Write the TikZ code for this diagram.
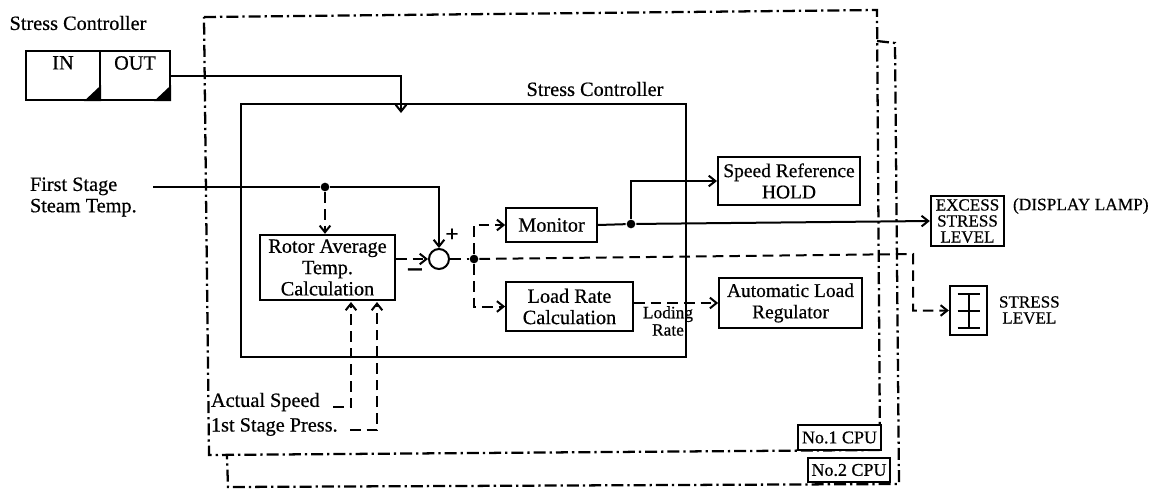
\documentclass[tikz,border=0pt]{standalone}
\usepackage{fontspec}
\setmainfont{Liberation Serif}[FakeBold=0.5]
\usetikzlibrary{arrows.meta,calc,positioning}

\begin{document}
\begin{tikzpicture}[
  x=0.75pt,y=-0.75pt,
  font=\fontsize{15.2}{16}\selectfont,
  >={Straight Barb[length=5pt,width=8pt]},
  line width=1.5pt,
  block/.style={draw,rectangle,align=center,fill=white,inner sep=0pt},
  sum/.style  ={draw,circle,minimum size=15pt,inner sep=0pt},
  junction/.style={fill,circle,minimum size=6.5pt,inner sep=0pt},
  tag/.style={inner sep=0pt,align=left},
  small/.style={font=\fontsize{12.8}{12}\selectfont,inner sep=0pt,align=center},
  sigdash/.style={dash pattern=on 8pt off 4.5pt},
  cpuframe/.style={line width=1.7pt,dash pattern=on 9pt off 3pt on 1.7pt off 3pt},
]
\useasboundingbox (0,0) rectangle (1158,490);

%% ============================================================
%% Frames first, everything else sits on top of them
%% ============================================================

% --- CPU frames ---
\draw[cpuframe] (204,17) -- (877,10) -- (880,450) -- (209,455) -- cycle;
\draw[cpuframe] (877,41) -- (895,43) -- (899,484) -- (228,487) -- (227,456);

\node[block,small,font=\fontsize{13.5}{14}\selectfont,minimum width=62pt,minimum height=19pt] (cpua) at (839.5,437.5) {No.1 CPU};
\node[block,small,font=\fontsize{13.5}{14}\selectfont,minimum width=61.5pt,minimum height=18pt] (cpub) at (849,470) {No.2 CPU};

% --- Stress controller frame ---
\node[draw,rectangle,minimum width=334pt,minimum height=190pt] (ctrl) at (463.5,230.5) {};
\node[tag] (ctrltitle) at (595,89) {Stress Controller};

% --- IN / OUT keys (top left) ---
\node[tag] (keytitle) at (78,23) {Stress Controller};
\node[block,minimum width=55.5pt,minimum height=37pt] (keyin) at (63,75.5) {};
\node[block,minimum width=52.5pt,minimum height=37pt] (keyout) at (135,75.5) {};
\node[tag,below=4pt of keyin.north] (keyintext) {IN};
\node[tag,below=4pt of keyout.north] (keyouttext) {OUT};
\fill (keyin.south east) -- ++(-17,0) -- ++(17,-16) -- cycle;
\fill (keyout.south east) -- ++(-17,0) -- ++(17,-16) -- cycle;

% --- Blocks ---
\node[block,minimum width=101pt,minimum height=49pt] (rotor) at (327.5,267.5)
      {Rotor Average\\Temp.\\Calculation};
\node[sum] (sum) at (439,259) {};
\node[block,minimum width=68pt,minimum height=25.5pt] (monitor) at (551.5,225) {Monitor};
\node[block,minimum width=95pt,minimum height=37pt] (loadrate) at (569.5,306.5)
      {Load Rate\\Calculation};
\node[block,small,font=\fontsize{14.6}{16}\selectfont,minimum width=106.5pt,minimum height=36pt] (speedref) at (789,181)
      {Speed Reference\\HOLD};
\node[block,small,font=\fontsize{14.6}{16}\selectfont,minimum width=107pt,minimum height=37pt] (autoload) at (790.5,303)
      {Automatic Load\\Regulator};
\node[block,small,minimum width=55pt,minimum height=37.5pt] (excess) at (967.5,221)
      {EXCESS\\STRESS\\LEVEL};
\node[block,minimum width=28pt,minimum height=37pt] (gauge) at (968.5,310.5) {};

% --- Gauge symbol ---
\draw (gauge.center) ++(-11,-17) -- ++(22,0);
\draw (gauge.center) ++(-11,0) -- ++(22,0);
\draw (gauge.center) ++(-11,17) -- ++(22,0);
\draw (gauge.center) ++(0,-17) -- ++(0,34);

% --- Texts beside the blocks ---
\node[tag,anchor=west,font=\fontsize{13}{14}\selectfont] (lamp) at (1012,206) {(DISPLAY LAMP)};
\node[small,anchor=west] (gaugetext) at (998,310) {STRESS\\LEVEL};
\node[tag,anchor=west] (tempin) at (29,197) {First Stage\\Steam Temp.};
\node[tag,anchor=west] (speedin) at (210,402) {Actual Speed};
\node[tag,anchor=west] (pressin) at (210,427) {1st Stage Press.};
\node[tag,font=\fontsize{17}{17}\selectfont] (plus) at (452,235) {\textbf{+}};
\node[tag,font=\fontsize{20}{20}\selectfont] (minus) at (415,272) {\textbf{--}};

% --- Free ends ---
\coordinate (stresstip) at (401,113);
\coordinate (tempstart) at (153,187);
\coordinate (gaugeturn) at (913,254);
\coordinate (speedstart) at (333,407);
\coordinate (pressstart) at (350,430);
\coordinate (speedup) at (351,302);
\coordinate (pressup) at (377,302);

% --- Solid connectors ---
\draw[->] (keyout.east) -| (stresstip);
\node[junction] (tempdot) at (325,187) {};
\draw (tempstart) -- (tempdot);
\draw[->] (tempdot) -| (sum.north);
\node[junction] (mondot) at (631,224) {};
\draw (monitor.east) -- (mondot);
\draw[->] (mondot) |- (speedref.west);
\draw[->] (mondot) -- (excess.west);

% --- Dashed connectors ---
\draw[sigdash,->] (tempdot) -- (tempdot |- rotor.north);
\draw[sigdash,->] (rotor.east |- sum.west) -- (sum.west);
\node[junction] (errdot) at (474,259) {};
\draw[sigdash] (sum.east) -- (errdot);
\draw[sigdash,->] (errdot) |- (monitor.west);
\draw[sigdash,->] (errdot) |- (loadrate.west);
\draw[sigdash,->] (errdot) -- (gaugeturn) |- (gauge.west);
\draw[sigdash,->] (speedstart) -| (speedup);
\draw[sigdash,->] (pressstart) -| (pressup);

% --- Loading rate path ---
\draw[sigdash,->] (loadrate.east |- autoload.west) -- (autoload.west);
\node[small,font=\fontsize{13}{13}\selectfont] (ratetext) at (668,321) {Loding\\Rate};

\end{tikzpicture}
\end{document}
